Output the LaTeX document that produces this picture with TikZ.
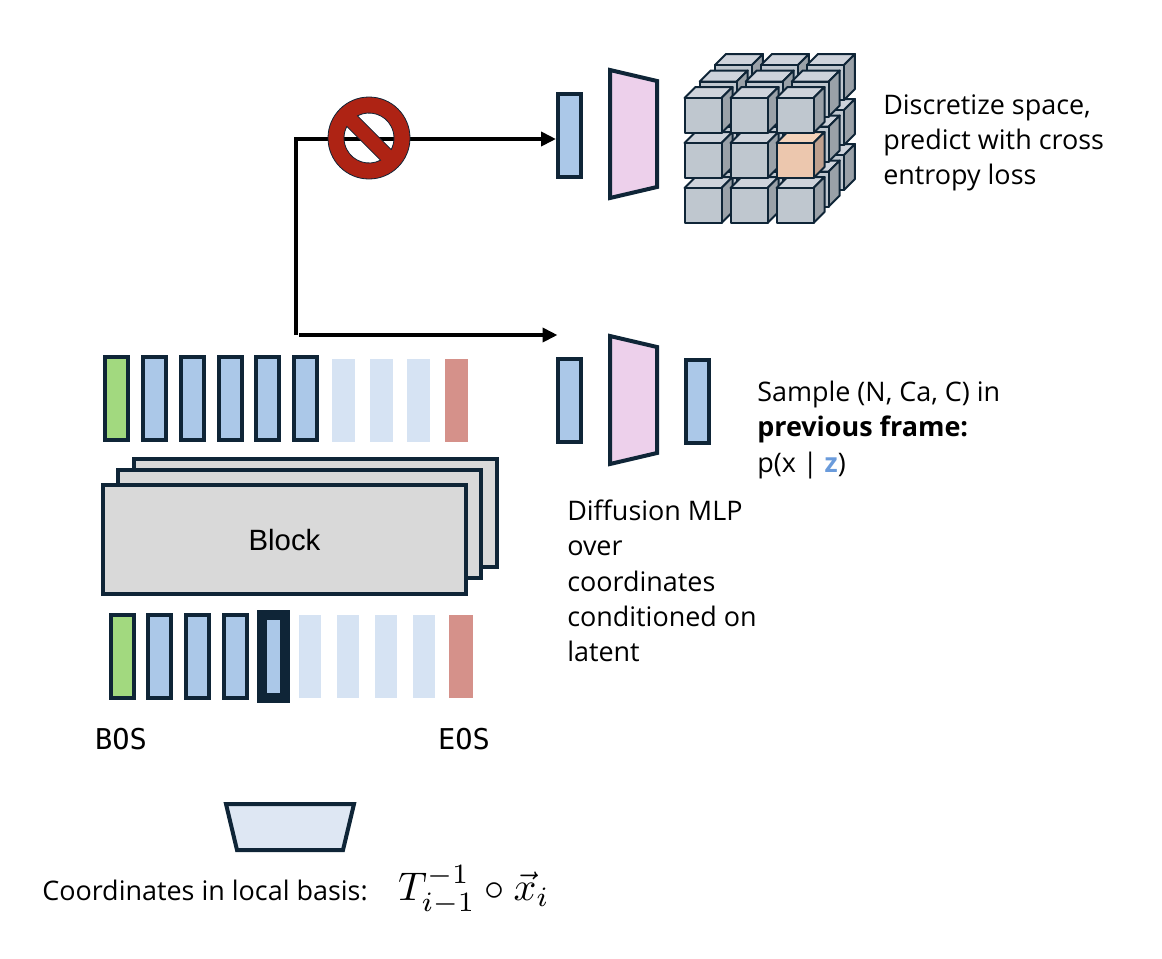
\documentclass[tikz,border=0pt]{standalone}
\usepackage[no-math]{fontspec}
\usepackage{amsmath}
\usetikzlibrary{arrows.meta}
\setmainfont{Open Sans}
\setsansfont{Liberation Sans}
\newfontfamily\tokenfont{DejaVu Sans Mono}

\definecolor{edgedark}{HTML}{0F2537}
\definecolor{tokenblue}{HTML}{ABC8E8}
\definecolor{tokenfaint}{HTML}{D6E3F3}
\definecolor{tokengreen}{HTML}{A2D97F}
\definecolor{tokenred}{HTML}{D5918A}
\definecolor{blockgray}{HTML}{D9D9D9}
\definecolor{mlppink}{HTML}{EDD0EB}
\definecolor{embedblue}{HTML}{DEE7F3}
\definecolor{signred}{HTML}{AE2314}
\definecolor{latentblue}{HTML}{6A9BDB}
\definecolor{cubefront}{HTML}{BFC7CF}
\definecolor{cubetop}{HTML}{CED3DB}
\definecolor{cubeside}{HTML}{9AA1A8}
\definecolor{orangefront}{HTML}{ECC7AE}
\definecolor{orangetop}{HTML}{F3D3BB}
\definecolor{orangeside}{HTML}{BFA08E}

\newcommand{\gridcube}[5]{%
  \draw[cubeedge, fill=#4] (#1,#2) -- ++(11,-11) -- ++(37,0) -- ++(-11,11) -- cycle;
  \draw[cubeedge, fill=#5] (#1+37,#2) -- ++(11,-11) -- ++(0,35) -- ++(-11,11) -- cycle;
  \draw[cubeedge, fill=#3] (#1,#2) rectangle ++(37,35);
}

\tikzset{
  token/.style={rectangle, inner sep=0pt, minimum width=17.25pt, minimum height=62.25pt},
  tokenbox/.style={token, draw=edgedark, line width=3pt, fill=tokenblue},
  tokenstart/.style={tokenbox, fill=tokengreen},
  tokennow/.style={tokenbox, line width=7.5pt},
  tokenfuture/.style={token, fill=tokenfaint},
  tokenend/.style={token, fill=tokenred},
  blockbox/.style={rectangle, draw=edgedark, line width=3pt, fill=blockgray, inner sep=0pt,
    minimum width=272.25pt, minimum height=81.5pt},
  mlpbox/.style={draw=edgedark, line width=3pt, fill=mlppink, line join=miter},
  cubeedge/.style={draw=edgedark, line width=1.5pt, line join=round},
  flow/.style={black, line width=3pt, -{Triangle[length=11.25pt,width=10.5pt]}},
  caption/.style={inner sep=0pt, align=left, anchor=west,
    font=\fontsize{20.2}{26.4}\selectfont},
  tokenlabel/.style={inner sep=0pt, font=\tokenfont\fontsize{21.5}{25}\selectfont},
}

\begin{document}
\begin{tikzpicture}[x=.75pt, y=-.75pt]
  \useasboundingbox (0,0) rectangle (1162,958);

  % upper route, discretized
  \node[tokenbox] (probe) at (569.5,135) {};
  \coordinate (elbowtop) at (296,139);
  \coordinate (elbowlow) at (296,335);
  \coordinate (lowstart) at (299,335);
  \coordinate (lowend) at (557.5,335);
  \coordinate (nosign) at (369,138);
  \draw[flow] (elbowlow) -- (elbowtop) -- (elbowtop -| probe.west);
  \draw[flow] (lowstart) -- (lowend);
  \draw[draw=edgedark, line width=.6pt, fill=signred, even odd rule]
    (nosign) circle [radius=41]
    (nosign) ++(-117.5:25) arc [start angle=-117.5, end angle=27.5, radius=25] -- cycle
    (nosign) ++(62.5:25) arc [start angle=62.5, end angle=207.5, radius=25] -- cycle;

  \draw[mlpbox] (610,70) -- (657,81) -- (657,187) -- (610,198) -- cycle;

  % cube grid, back to front
  \foreach \layer in {2,1,0} {
    \foreach \col in {0,1,2} {
      \foreach \row in {2,1,0} {
        \pgfmathsetmacro{\cubex}{684.5+46*\col+15.2*\layer}
        \pgfmathsetmacro{\cubey}{98+45*\row-16.5*\layer}
        \ifnum\numexpr100*\layer+10*\col+\row\relax=21
          \gridcube{\cubex}{\cubey}{orangefront}{orangetop}{orangeside}
        \else
          \gridcube{\cubex}{\cubey}{cubefront}{cubetop}{cubeside}
        \fi
      }
    }
  }
  \node[caption] (discretetext) at (883,143) {Discretize space,\\predict with cross\\entropy loss};

  % lower route, diffusion
  \node[tokenbox] (latent) at (569.5,400.5) {};
  \draw[mlpbox] (610,336) -- (657,347) -- (657,453) -- (610,464) -- cycle;
  \node[tokenbox] (sampled) at (697.5,401.5) {};
  \node[caption] (sampletext) at (757,430) {Sample (N, Ca, C) in\\\textbf{previous frame:}\\p(x | \textcolor{latentblue}{\textbf{z}})};
  \node[caption] (mlptext) at (567,581) {Diffusion MLP\\over\\coordinates\\conditioned on\\latent};

  % output tokens
  \node[tokenstart] (outa) at (116.5,398.5) {};
  \foreach \name/\x in {outb/154.5,outc/192.5,outd/230.5,oute/267.5,outf/305.5}
    \node[tokenbox] (\name) at (\x,398.5) {};
  \foreach \name/\x in {outg/343.5,outh/381.5,outi/418.5}
    \node[tokenfuture] (\name) at (\x,400.5) {};
  \node[tokenend] (outj) at (456.5,400.5) {};

  % stacked blocks
  \node[blockbox] (blockc) at (315.5,513) {};
  \node[blockbox] (blockb) at (299.5,524) {};
  \node[blockbox, font=\sffamily\fontsize{22}{26}\selectfont] (blocka) at (284.5,539.5) {Block};

  % input tokens
  \node[tokenstart] (ina) at (122.5,656) {};
  \foreach \name/\x in {inb/159.5,inc/197.5,ind/235.5}
    \node[tokenbox] (\name) at (\x,656) {};
  \node[tokennow] (inow) at (273.5,656) {};
  \foreach \name/\x in {inf/310,ing/348,inh/386,ini/424}
    \node[tokenfuture, minimum width=16.5pt] (\name) at (\x,656) {};
  \node[tokenend, minimum width=18pt] (inj) at (461,656) {};

  \node[tokenlabel] (bos) at (121,739) {BOS};
  \node[tokenlabel] (eos) at (464,739) {EOS};

  % embedding of the coordinates
  \draw[draw=edgedark, line width=3pt, fill=embedblue] (226,804) -- (354,804) -- (343,850) -- (237,850) -- cycle;
  \node[caption, anchor=base west] (basistext) at (42,900) {Coordinates in local basis:};
  \node[inner sep=0pt, scale=3] (basismath) at (474,890) {$T_{i-1}^{-1}\circ\vec{x}_i$};
\end{tikzpicture}
\end{document}
